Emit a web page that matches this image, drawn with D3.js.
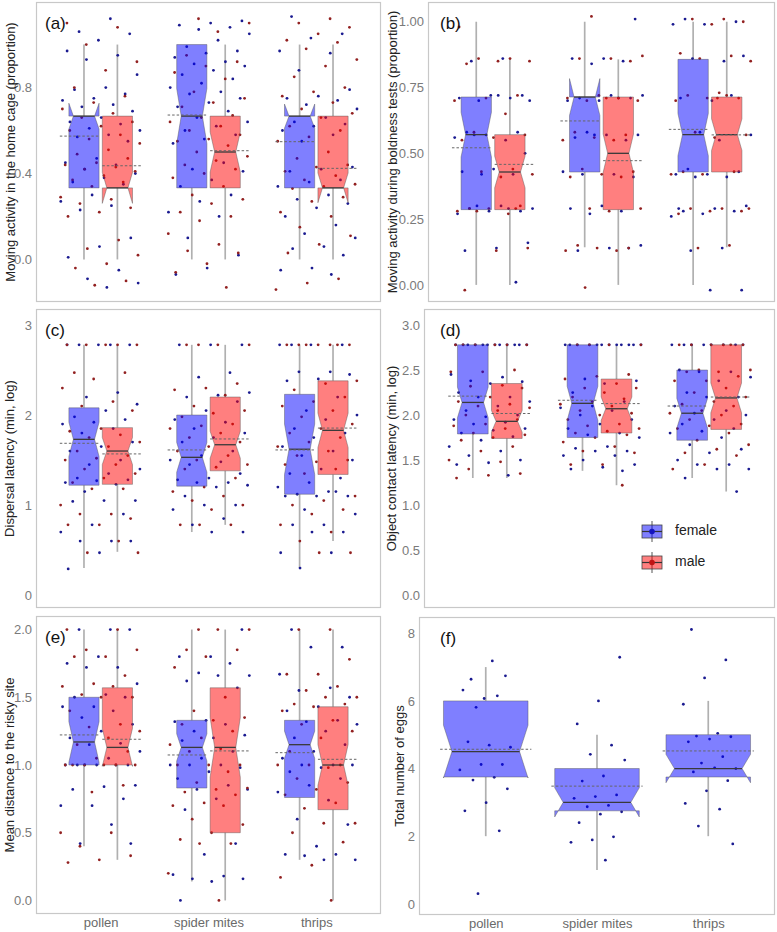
<!DOCTYPE html>
<html>
<head>
<meta charset="utf-8">
<script src="https://cdn.jsdelivr.net/npm/d3@7"></script>
<style>
body { margin: 0; background: #fff; }
svg { display: block; font-family: 'Liberation Sans', Arial, sans-serif; }
</style>
</head>
<body>
<script>
/* global d3 */

// Constants
const width = 777;
const height = 932;

const categories = ['pollen', 'spider mites', 'thrips'];
const sexes = ['female', 'male'];
const fillColor = { female: '#0000ff', male: '#ff0000' };
const dotColor = { female: '#1a1a90', male: '#922020' };

// Box stats per category: [lower whisker, Q1, median, Q3, upper whisker, notch half-range, mean]
const aFemaleBox = [[0, 0.333, 0.667, 0.667, 1, 0.06, 0.574], [0, 0.333, 0.667, 1, 1, 0.128, 0.672], [0, 0.333, 0.667, 0.667, 1, 0.056, 0.548]];
const aMaleBox = [[0, 0.333, 0.333, 0.667, 1, 0.072, 0.436], [0, 0.333, 0.5, 0.667, 1, 0.093, 0.506], [0, 0.333, 0.333, 0.667, 1, 0.069, 0.424]];
const bFemaleBox = [[0, 0.286, 0.571, 0.714, 1, 0.085, 0.521], [0.143, 0.429, 0.714, 0.714, 1, 0.07, 0.623], [0, 0.429, 0.571, 0.857, 1, 0.08, 0.591]];
const bMaleBox = [[0, 0.286, 0.429, 0.571, 0.857, 0.06, 0.458], [0, 0.286, 0.5, 0.714, 0.857, 0.073, 0.472], [0.143, 0.429, 0.571, 0.714, 1, 0.06, 0.57]];
const cFemaleBox = [[0.3, 1.22, 1.73, 2.08, 2.78, 0.19, 1.686], [0.7, 1.21, 1.53, 2.0, 2.78, 0.165, 1.612], [0.3, 1.12, 1.62, 2.23, 2.78, 0.28, 1.612]];
const cMaleBox = [[0.48, 1.23, 1.6, 1.86, 2.78, 0.15, 1.568], [0.78, 1.38, 1.67, 2.2, 2.78, 0.15, 1.734], [0.6, 1.34, 1.83, 2.38, 2.78, 0.19, 1.855]];
const dFemaleBox = [[1.3, 1.79, 2.14, 2.78, 2.78, 0.17, 2.21], [1.38, 1.75, 2.13, 2.78, 2.78, 0.19, 2.164], [1.3, 1.72, 2.02, 2.5, 2.78, 0.165, 2.1]];
const dMaleBox = [[1.3, 1.74, 1.93, 2.35, 2.78, 0.12, 2.017], [1.22, 1.8, 2.07, 2.4, 2.78, 0.13, 2.127], [1.15, 1.84, 2.19, 2.78, 2.78, 0.165, 2.2]];
const eFemaleBox = [[0.4, 1.0, 1.17, 1.5, 2.0, 0.15, 1.222], [0.14, 0.83, 1.13, 1.33, 2.0, 0.1, 1.074], [0.3, 0.76, 1.15, 1.33, 2.0, 0.1, 1.091]];
const eMaleBox = [[0.3, 1.0, 1.13, 1.57, 2.0, 0.14, 1.19], [0, 0.5, 1.13, 1.57, 2.0, 0.22, 1.104], [0, 0.67, 1.0, 1.43, 2.0, 0.15, 1.042]];
const fFemaleBox = [[2, 3.75, 4.5, 6, 7, 0.78, 4.57], [1, 2.75, 3, 4, 5, 0.43, 3.48], [2, 3.75, 4, 5, 6, 0.42, 4.52]];

// Individual observations per category (pollen, spider mites, thrips)
const aFemalePts = [
    [1.12, 1.06, 1.05, 1.02, 0.97, 0.95, 0.93, 0.86, 0.8, 0.79, 0.77, 0.75, 0.74, 0.72, 0.71, 0.69, 0.66, 0.64, 0.63, 0.61, 0.6, 0.58, 0.57, 0.55, 0.47, 0.45, 0.44, 0.42, 0.4, 0.38, 0.36, 0.35, 0.3, 0.27, 0.25, 0.23, 0.1, 0.06, 0.01, -0.05, -0.09, -0.11, -0.13],
    [1.11, 1.1, 1.09, 1.08, 1.07, 1.05, 1.02, 0.99, 0.97, 0.96, 0.94, 0.92, 0.91, 0.9, 0.88, 0.86, 0.84, 0.82, 0.8, 0.78, 0.77, 0.75, 0.73, 0.71, 0.69, 0.66, 0.64, 0.62, 0.6, 0.58, 0.56, 0.54, 0.45, 0.42, 0.41, 0.37, 0.34, 0.3, 0.27, 0.22, 0.2, 0.1, 0.02, -0.04, -0.07],
    [1.13, 1.05, 1.03, 0.97, 0.96, 0.88, 0.79, 0.76, 0.75, 0.74, 0.72, 0.7, 0.66, 0.64, 0.63, 0.62, 0.6, 0.58, 0.55, 0.43, 0.42, 0.41, 0.37, 0.36, 0.34, 0.3, 0.28, 0.26, 0.24, 0.2, 0.16, 0.12, 0.1, 0.06, 0.05, 0.02, -0.04, -0.05, -0.07]
];
const aMalePts = [
    [1.1, 1.08, 1.0, 0.92, 0.88, 0.8, 0.76, 0.73, 0.7, 0.68, 0.66, 0.64, 0.62, 0.6, 0.58, 0.56, 0.54, 0.51, 0.49, 0.47, 0.45, 0.44, 0.43, 0.42, 0.41, 0.39, 0.37, 0.36, 0.34, 0.29, 0.28, 0.26, 0.24, 0.22, 0.2, 0.09, 0.05, 0.02, -0.02, -0.04, -0.1, -0.12],
    [1.12, 1.1, 1.06, 0.95, 0.92, 0.9, 0.87, 0.84, 0.78, 0.75, 0.73, 0.71, 0.67, 0.66, 0.64, 0.62, 0.6, 0.58, 0.56, 0.55, 0.53, 0.5, 0.48, 0.46, 0.44, 0.42, 0.4, 0.38, 0.34, 0.3, 0.28, 0.26, 0.22, 0.2, 0.18, 0.12, 0.07, 0.04, 0.03, -0.02, -0.06, -0.13],
    [1.12, 1.1, 1.08, 1.05, 1.02, 1.01, 0.98, 0.93, 0.9, 0.85, 0.8, 0.78, 0.76, 0.73, 0.7, 0.68, 0.66, 0.62, 0.6, 0.57, 0.55, 0.5, 0.47, 0.44, 0.43, 0.41, 0.39, 0.37, 0.35, 0.34, 0.33, 0.29, 0.27, 0.22, 0.2, 0.15, 0.11, 0.07, 0.03, -0.09, -0.11, -0.14]
];
const bFemalePts = [
    [0.86, 0.85, 0.72, 0.72, 0.71, 0.71, 0.70, 0.70, 0.72, 0.58, 0.58, 0.57, 0.56, 0.55, 0.57, 0.50, 0.44, 0.43, 0.42, 0.42, 0.29, 0.30, 0.29, 0.28, 0.28, 0.27, 0.29, 0.30, 0.16, 0.14, 0.13, 0.01],
    [1.01, 0.86, 0.86, 0.85, 0.84, 0.72, 0.72, 0.71, 0.71, 0.70, 0.70, 0.71, 0.58, 0.57, 0.57, 0.56, 0.55, 0.57, 0.43, 0.42, 0.42, 0.41, 0.30, 0.29, 0.28, 0.27, 0.15, 0.14, 0.13, 0.14],
    [1.01, 1.0, 0.99, 0.99, 0.85, 0.86, 0.87, 0.70, 0.71, 0.72, 0.58, 0.57, 0.55, 0.44, 0.43, 0.42, 0.42, 0.41, 0.41, 0.30, 0.29, 0.28, 0.28, 0.27, 0.26, 0.14, 0.13, -0.02, -0.02, 0.29]
];
const bMalePts = [
    [0.98, 0.86, 0.86, 0.85, 0.85, 0.84, 0.72, 0.71, 0.70, 0.65, 0.58, 0.57, 0.56, 0.55, 0.44, 0.43, 0.42, 0.41, 0.29, 0.30, 0.29, 0.28, 0.27, 0.28, 0.14, 0.13, -0.02, 0.29],
    [1.02, 0.87, 0.86, 0.86, 0.85, 0.72, 0.71, 0.71, 0.70, 0.70, 0.71, 0.58, 0.57, 0.56, 0.55, 0.55, 0.44, 0.43, 0.42, 0.41, 0.41, 0.29, 0.29, 0.28, 0.15, 0.14, 0.14, 0.13, 0.13, -0.01],
    [1.01, 1.01, 1.0, 0.99, 0.88, 0.87, 0.86, 0.85, 0.73, 0.72, 0.71, 0.71, 0.70, 0.72, 0.58, 0.57, 0.56, 0.43, 0.43, 0.42, 0.42, 0.29, 0.29, 0.28, 0.28, 0.27, 0.15, 0.14, 0.29, 0.71]
];
const cFemalePts = [
    [2.78, 2.78, 2.78, 2.78, 2.78, 2.25, 2.2, 2.12, 2.05, 1.98, 1.95, 1.92, 1.9, 1.85, 1.8, 1.7, 1.65, 1.6, 1.5, 1.45, 1.4, 1.35, 1.3, 1.28, 1.27, 1.25, 1.23, 1.15, 1.05, 1.05, 1.04, 0.9, 0.78, 0.7, 0.6, 0.6, 0.6, 0.47, 0.29],
    [2.78, 2.78, 2.78, 2.47, 2.42, 2.25, 2.22, 2.2, 2.15, 2.05, 1.95, 1.92, 1.85, 1.8, 1.75, 1.7, 1.6, 1.55, 1.5, 1.48, 1.45, 1.35, 1.3, 1.28, 1.25, 1.25, 1.22, 1.2, 1.1, 1.0, 1.0, 0.95, 0.85, 0.78, 0.7, 0.7],
    [2.78, 2.78, 2.78, 2.78, 2.48, 2.48, 2.45, 2.4, 2.38, 2.2, 2.05, 2.0, 1.95, 1.85, 1.8, 1.75, 1.65, 1.6, 1.55, 1.5, 1.4, 1.35, 1.3, 1.25, 1.2, 1.15, 1.12, 1.1, 1.1, 1.1, 1.15, 0.95, 0.9, 0.78, 0.78, 0.7, 0.7, 0.47, 0.47, 0.3]
];
const cMalePts = [
    [2.78, 2.78, 2.78, 2.78, 2.78, 2.47, 2.47, 2.4, 2.3, 2.15, 2.1, 2.05, 1.85, 1.82, 1.78, 1.75, 1.7, 1.65, 1.6, 1.55, 1.52, 1.5, 1.45, 1.4, 1.35, 1.3, 1.25, 1.18, 1.18, 1.0, 0.9, 0.9, 0.85, 0.78, 0.78, 0.6, 0.47, 0.47],
    [2.78, 2.78, 2.78, 2.78, 2.35, 2.3, 2.28, 2.22, 2.1, 2.05, 2.02, 1.98, 1.9, 1.88, 1.85, 1.8, 1.75, 1.7, 1.65, 1.6, 1.55, 1.5, 1.45, 1.42, 1.4, 1.3, 1.2, 1.15, 1.1, 1.05, 1.0, 0.95, 0.78, 0.78, 0.78],
    [2.78, 2.78, 2.78, 2.78, 2.78, 2.78, 2.78, 2.38, 2.35, 2.28, 2.2, 2.15, 2.1, 2.05, 1.98, 1.9, 1.85, 1.8, 1.75, 1.7, 1.65, 1.6, 1.55, 1.5, 1.48, 1.45, 1.4, 1.35, 1.1, 1.05, 1.0, 0.95, 0.9, 0.78, 0.7, 0.6, 0.47, 0.47]
];
const dFemalePts = [
    [2.78, 2.78, 2.78, 2.78, 2.78, 2.78, 2.78, 2.78, 2.78, 2.78, 2.78, 2.78, 2.45, 2.42, 2.38, 2.37, 2.35, 2.25, 2.2, 2.2, 2.15, 2.1, 2.05, 2.0, 1.98, 1.95, 1.92, 1.9, 1.85, 1.83, 1.8, 1.76, 1.72, 1.65, 1.6, 1.55, 1.5, 1.47, 1.45, 1.33],
    [2.78, 2.78, 2.78, 2.78, 2.78, 2.78, 2.78, 2.78, 2.78, 2.78, 2.78, 2.78, 2.4, 2.38, 2.35, 2.25, 2.15, 2.1, 2.08, 2.05, 2.0, 1.95, 1.9, 1.85, 1.8, 1.78, 1.75, 1.65, 1.63, 1.6, 1.6, 1.55, 1.55, 1.5, 1.45, 1.42, 1.4, 1.38],
    [2.78, 2.78, 2.78, 2.78, 2.78, 2.78, 2.78, 2.78, 2.5, 2.48, 2.48, 2.42, 2.38, 2.25, 2.2, 2.2, 2.1, 2.05, 2.02, 2.0, 1.95, 1.9, 1.85, 1.82, 1.8, 1.75, 1.67, 1.62, 1.58, 1.5, 1.45, 1.45, 1.4, 1.4, 1.3, 1.15]
];
const dMalePts = [
    [2.78, 2.78, 2.78, 2.78, 2.78, 2.78, 2.5, 2.48, 2.48, 2.33, 2.32, 2.3, 2.2, 2.15, 2.12, 2.1, 2.08, 2.05, 2.0, 1.95, 1.9, 1.88, 1.85, 1.8, 1.78, 1.75, 1.72, 1.65, 1.6, 1.5, 1.48, 1.4, 1.35, 1.33, 1.3],
    [2.78, 2.78, 2.78, 2.78, 2.45, 2.43, 2.4, 2.35, 2.3, 2.3, 2.25, 2.2, 2.18, 2.15, 2.12, 2.1, 2.05, 2.02, 2.0, 1.95, 1.9, 1.88, 1.85, 1.82, 1.8, 1.78, 1.75, 1.7, 1.65, 1.6, 1.58, 1.45, 1.45, 1.22],
    [2.78, 2.78, 2.78, 2.78, 2.78, 2.78, 2.5, 2.5, 2.48, 2.48, 2.43, 2.38, 2.38, 2.3, 2.25, 2.2, 2.15, 2.12, 2.1, 2.05, 2.02, 2.0, 1.95, 1.9, 1.88, 1.85, 1.8, 1.72, 1.67, 1.62, 1.58, 1.55, 1.45, 1.4]
];
const eFemalePts = [
    [2.0, 2.0, 2.0, 1.8, 1.75, 1.72, 1.72, 1.6, 1.52, 1.5, 1.5, 1.43, 1.43, 1.4, 1.35, 1.3, 1.25, 1.2, 1.16, 1.15, 1.1, 1.05, 1.0, 1.0, 1.0, 1.0, 1.0, 1.0, 0.85, 0.84, 0.82, 0.75, 0.7, 0.7, 0.56, 0.42, 0.42],
    [2.0, 1.8, 1.8, 1.75, 1.68, 1.66, 1.66, 1.62, 1.57, 1.33, 1.32, 1.3, 1.25, 1.22, 1.2, 1.18, 1.1, 1.05, 1.0, 1.0, 1.0, 0.98, 0.95, 0.9, 0.85, 0.82, 0.82, 0.75, 0.67, 0.42, 0.34, 0.19, 0.18, 0.16, 0.16, 0.14, 0.0],
    [2.0, 1.87, 1.87, 1.67, 1.57, 1.55, 1.5, 1.43, 1.4, 1.33, 1.32, 1.3, 1.25, 1.2, 1.15, 1.1, 1.05, 1.0, 1.0, 1.0, 0.98, 0.95, 0.9, 0.85, 0.8, 0.74, 0.6, 0.56, 0.4, 0.34, 0.34, 0.33, 0.3, 0.3]
];
const eMalePts = [
    [2.0, 2.0, 1.85, 1.85, 1.8, 1.8, 1.66, 1.6, 1.58, 1.58, 1.52, 1.5, 1.5, 1.4, 1.3, 1.28, 1.25, 1.2, 1.15, 1.1, 1.05, 1.0, 1.0, 1.0, 1.0, 1.0, 1.0, 0.85, 0.8, 0.5, 0.5, 0.4, 0.33, 0.3, 0.28],
    [2.0, 2.0, 2.0, 1.85, 1.85, 1.8, 1.72, 1.5, 1.4, 1.35, 1.33, 1.3, 1.25, 1.2, 1.15, 1.12, 1.1, 1.0, 1.0, 1.0, 0.95, 0.87, 0.83, 0.82, 0.8, 0.78, 0.72, 0.7, 0.7, 0.6, 0.56, 0.5, 0.45, 0.42, 0.42, 0.2, 0.0],
    [2.0, 2.0, 1.78, 1.67, 1.67, 1.58, 1.55, 1.5, 1.5, 1.45, 1.45, 1.43, 1.4, 1.33, 1.3, 1.25, 1.2, 1.1, 1.0, 1.0, 1.0, 0.98, 0.9, 0.87, 0.82, 0.78, 0.72, 0.68, 0.57, 0.57, 0.5, 0.43, 0.26, 0.17, 0.0]
];
const fFemalePts = [
    [7.18, 6.64, 6.74, 6.07, 6.32, 6.15, 5.81, 4.63, 4.69, 4.79, 4.12, 4.12, 3.96, 3.74, 3.66, 3.4, 2.99, 2.75, 2.16, 0.3],
    [7.29, 6.0, 5.32, 4.69, 4.42, 4.25, 3.78, 3.63, 3.22, 3.17, 3.12, 2.91, 2.87, 2.72, 2.65, 2.4, 1.98, 1.89, 1.82, 1.29],
    [8.11, 7.21, 6.68, 5.9, 5.04, 4.96, 4.94, 4.87, 4.79, 4.35, 4.16, 4.0, 4.02, 3.9, 3.64, 3.34, 2.97, 2.8, 2.3, 1.77]
];

// Tick values
const aTicks = [0, 0.4, 0.8];
const bTicks = [0, 0.25, 0.5, 0.75, 1];
const cTicks = [0, 1, 2, 3];
const dTicks = [0, 0.5, 1, 1.5, 2, 2.5, 3];
const eTicks = [0, 0.5, 1, 1.5, 2];
const fTicks = [0, 2, 4, 6, 8];

// Panel layout
const panels = [
    { tag: '(a)', title: 'Moving activity in the home cage (proportion)', x0: 36, x1: 381, y0: 2, y1: 302, domain: [-0.198, 1.198], ticks: aTicks, fmt: '.1f', box: { female: aFemaleBox, male: aMaleBox }, pts: { female: aFemalePts, male: aMalePts }, titleX: 12, tagX: 45 },
    { tag: '(b)', title: 'Moving activity during boldness tests (proportion)', x0: 428, x1: 775, y0: 2, y1: 302, domain: [-0.065, 1.075], ticks: bTicks, fmt: '.2f', box: { female: bFemaleBox, male: bMaleBox }, pts: { female: bFemalePts, male: bMalePts }, titleX: 394, tagX: 440 },
    { tag: '(c)', title: 'Dispersal latency (min, log)', x0: 36, x1: 381, y0: 309, y1: 608, domain: [-0.144, 3.178], ticks: cTicks, fmt: 'd', box: { female: cFemaleBox, male: cMaleBox }, pts: { female: cFemalePts, male: cMalePts }, titleX: 11, tagX: 45 },
    { tag: '(d)', title: 'Object contact latency (min, log)', x0: 424, x1: 775, y0: 309, y1: 608, domain: [-0.144, 3.178], ticks: dTicks, fmt: '.1f', box: { female: dFemaleBox, male: dMaleBox }, pts: { female: dFemalePts, male: dMalePts }, titleX: 393, tagX: 440, legend: true },
    { tag: '(e)', title: 'Mean distance to the risky site', x0: 36, x1: 381, y0: 616, y1: 914, domain: [-0.1, 2.1], ticks: eTicks, fmt: '.1f', box: { female: eFemaleBox, male: eMaleBox }, pts: { female: eFemalePts, male: eMalePts }, titleX: 11, tagX: 45, xAxis: true },
    { tag: '(f)', title: 'Total number of eggs', x0: 419, x1: 775, y0: 617, y1: 915, domain: [-0.33, 8.48], ticks: fTicks, fmt: 'd', box: { female: fFemaleBox }, pts: { female: fFemalePts }, titleX: 401, tagX: 440, xAxis: true, single: true }
];

// SVG setup
const svg = d3.select('body')
.append('svg')
.attr('width', width)
.attr('height', height);

function notchPath(xl, xr, st, y, indentFrac) {
    const [, q1, med, q3, , notch] = st;
    const ind = (xr - xl) * indentFrac;
    const nu = med + notch;
    const nl = med - notch;
    const pts = [[xl, q3], [xl, nu], [xl + ind, med], [xl, nl], [xl, q1], [xr, q1], [xr, nl], [xr - ind, med], [xr, nu], [xr, q3]];
    return d3.line()(pts.map(p => [p[0], y(p[1])])) + 'Z';
}

function drawPanel(p) {
    const g = svg.append('g');
    const x = d3.scalePoint().domain(categories).range([p.x0, p.x1]).padding(0.6);
    const y = d3.scaleLinear().domain(p.domain).range([p.y1, p.y0]);
    const step = x.step();
    const bw = p.single ? 0.76 * step : 0.28 * step;
    const jw = p.single ? 0.25 * step : 0.38 * step;
    const indentFrac = p.single ? 0.1 : 0.15;
    const groups = p.single ? ['female'] : sexes;
    const offset = s => (p.single ? 0 : (s === 'female' ? -0.155 : 0.155) * step);

    // panel border
    g.append('rect')
    .attr('x', p.x0 + 0.5)
    .attr('y', p.y0 + 0.5)
    .attr('width', p.x1 - p.x0 - 1)
    .attr('height', p.y1 - p.y0 - 1)
    .attr('fill', 'none')
    .attr('stroke', '#c8c8c8')
    .attr('stroke-width', 1.2);

    // whiskers: Q3 -> upper, Q1 -> lower
    groups.forEach(s => {
        [[3, 4], [1, 0]].forEach(([from, to]) => {
            g.selectAll(null)
            .data(p.box[s])
            .enter()
            .append('line')
            .attr('x1', (d, i) => x(categories[i]) + offset(s))
            .attr('x2', (d, i) => x(categories[i]) + offset(s))
            .attr('y1', d => y(d[from]))
            .attr('y2', d => y(d[to]))
            .attr('stroke', '#b0b0b0')
            .attr('stroke-width', 1.7);
        });
    });

    // jittered points (drawn under the translucent boxes)
    groups.forEach((s, si) => {
        const flat = [];
        p.pts[s].forEach((vals, ci) => {
            vals.forEach((v, i) => {
                const u = ((i + 1) * 0.618034 + ci * 0.29 + si * 0.47) % 1;
                flat.push({ cx: x(categories[ci]) + (u - 0.5) * 2 * jw, v });
            });
        });
        g.selectAll(null)
        .data(flat)
        .enter()
        .append('circle')
        .attr('cx', d => d.cx)
        .attr('cy', d => y(d.v))
        .attr('r', 1.4)
        .attr('fill', dotColor[s]);
    });

    // notched boxes
    groups.forEach(s => {
        g.selectAll(null)
        .data(p.box[s])
        .enter()
        .append('path')
        .attr('d', (d, i) => {
            const cx = x(categories[i]) + offset(s);
            return notchPath(cx - bw / 2, cx + bw / 2, d, y, indentFrac);
        })
        .attr('fill', fillColor[s])
        .attr('fill-opacity', 0.5)
        .attr('stroke', '#555')
        .attr('stroke-opacity', 0.55)
        .attr('stroke-width', 0.8);

        // medians
        g.selectAll(null)
        .data(p.box[s])
        .enter()
        .append('line')
        .attr('x1', (d, i) => x(categories[i]) + offset(s) - bw / 2 + bw * indentFrac)
        .attr('x2', (d, i) => x(categories[i]) + offset(s) + bw / 2 - bw * indentFrac)
        .attr('y1', d => y(d[2]))
        .attr('y2', d => y(d[2]))
        .attr('stroke', '#3a3a3a')
        .attr('stroke-width', 1.3);

        // means
        g.selectAll(null)
        .data(p.box[s])
        .enter()
        .append('line')
        .attr('x1', (d, i) => {
            const l = x(categories[i]) + offset(s) - bw / 2;
            return p.single ? l - 0.03 * step : (s === 'female' ? l - 0.3 * bw : l);
        })
        .attr('x2', (d, i) => {
            const r = x(categories[i]) + offset(s) + bw / 2;
            return p.single ? r + 0.03 * step : (s === 'female' ? r : r + 0.3 * bw);
        })
        .attr('y1', d => y(d[6]))
        .attr('y2', d => y(d[6]))
        .attr('stroke', '#666')
        .attr('stroke-width', 1)
        .attr('stroke-dasharray', '2.5,2');
    });

    // y axis
    const yAxis = g.append('g')
    .attr('transform', `translate(${ p.x0 - 1 },0)`)
    .call(d3.axisLeft(y).tickValues(p.ticks).tickFormat(d3.format(p.fmt)).tickSize(0).tickPadding(3));
    yAxis.select('.domain').remove();
    yAxis.selectAll('text')
    .attr('font-family', "'Liberation Sans', Arial, sans-serif")
    .attr('font-size', '13px')
    .attr('fill', '#7a7a7a');

    // x axis
    if (p.xAxis) {
        const xAxis = g.append('g')
        .attr('transform', `translate(0,${ p.y1 })`)
        .call(d3.axisBottom(x).tickSize(0).tickPadding(4));
        xAxis.select('.domain').remove();
        xAxis.selectAll('text')
        .attr('font-family', "'Liberation Sans', Arial, sans-serif")
        .attr('font-size', '13px')
        .attr('fill', '#6a6a6a');
    }

    // y title
    g.append('text')
    .attr('transform', `translate(${ p.titleX },${ (p.y0 + p.y1) / 2 }) rotate(-90)`)
    .attr('text-anchor', 'middle')
    .attr('dominant-baseline', 'middle')
    .attr('font-size', '13px')
    .attr('fill', '#222')
    .text(p.title);

    // panel tag
    g.append('text')
    .attr('x', p.tagX)
    .attr('y', p.y0 + 27)
    .attr('font-size', '17px')
    .attr('fill', '#111')
    .text(p.tag);

    if (p.legend) drawLegend(642, 525);
}

function drawLegend(lx, ly) {
    const lg = svg.append('g');
    sexes.forEach((s, i) => {
        const top = ly + i * 31;
        const kw = 20;
        const kh = 13;
        lg.append('line')
        .attr('x1', lx + kw / 2).attr('x2', lx + kw / 2)
        .attr('y1', top - 4).attr('y2', top + kh + 4)
        .attr('stroke', '#555').attr('stroke-width', 1);
        lg.append('rect')
        .attr('x', lx).attr('y', top)
        .attr('width', kw).attr('height', kh)
        .attr('fill', fillColor[s]).attr('fill-opacity', 0.5)
        .attr('stroke', '#444').attr('stroke-width', 0.8);
        lg.append('line')
        .attr('x1', lx).attr('x2', lx + kw)
        .attr('y1', top + kh / 2).attr('y2', top + kh / 2)
        .attr('stroke', '#333').attr('stroke-width', 1.2);
        lg.append('circle')
        .attr('cx', lx + kw / 2).attr('cy', top + kh / 2)
        .attr('r', 2.8)
        .attr('fill', s === 'female' ? '#1414c0' : '#c01414');
        lg.append('text')
        .attr('x', lx + 33)
        .attr('y', top + kh / 2)
        .attr('dominant-baseline', 'middle')
        .attr('font-size', '14px')
        .attr('fill', '#222')
        .text(s);
    });
}

panels.forEach(drawPanel);
</script>
</body>
</html>
